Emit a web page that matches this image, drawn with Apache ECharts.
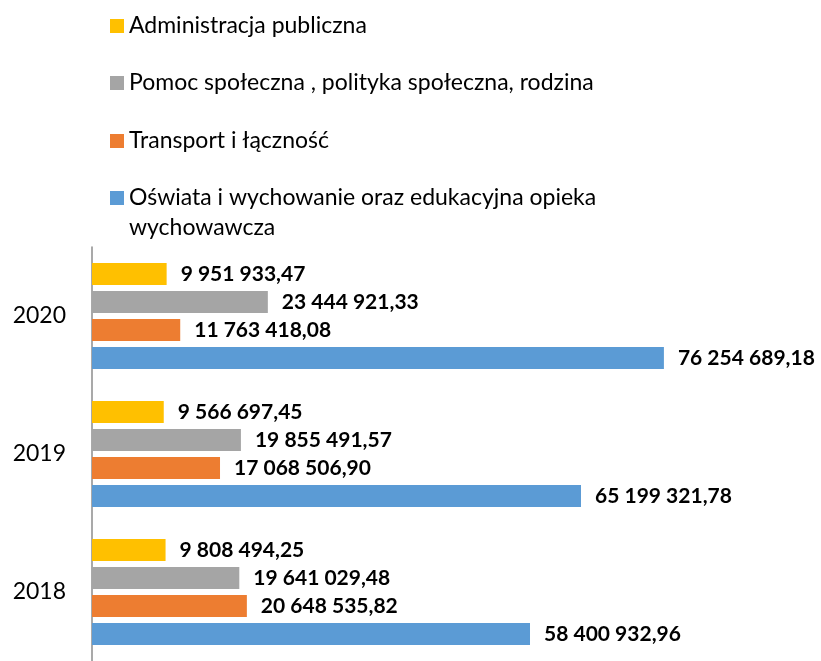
<!DOCTYPE html>
<html>
<head>
<meta charset="utf-8">
<script src="https://cdn.jsdelivr.net/npm/echarts@6/dist/echarts.min.js"></script>
<style>
  html, body { margin: 0; padding: 0; background: #fff; }
  #chart { width: 821px; height: 661px; }
</style>
</head>
<body>
<div id="chart"></div>
<script>
let years = ['2018', '2019', '2020'];

let administracja = [9808494.25, 9566697.45, 9951933.47];
let pomoc = [19641029.48, 19855491.57, 23444921.33];
let transport = [20648535.82, 17068506.90, 11763418.08];
let oswiata = [58400932.96, 65199321.78, 76254689.18];

let names = [
  'Administracja publiczna',
  'Pomoc społeczna , polityka społeczna, rodzina',
  'Transport i łączność',
  'Oświata i wychowanie oraz edukacyjna opieka wychowawcza'
];

let colors = ['#FFC000', '#A5A5A5', '#ED7D31', '#5B9BD5'];
let font = 'Lato, "Open Sans", sans-serif';

// 9 951 933,47
function plNumber(v) {
  let parts = v.toFixed(2).split('.');
  let intPart = parts[0].replace(/\B(?=(\d{3})+(?!\d))/g, ' ');
  return intPart + ',' + parts[1];
}

function makeSeries(name, data, color) {
  return {
    name: name,
    type: 'bar',
    data: data,
    color: color,
    barWidth: 22,
    barGap: '27%',
    label: {
      show: true,
      position: 'right',
      distance: 14,
      fontFamily: font,
      fontWeight: 'bold',
      fontSize: 21,
      color: '#000',
      formatter: function(p) {
        return plNumber(p.value);
      }
    }
  };
}

function makeLegend(name, top, lines) {
  return {
    data: [name],
    orient: 'vertical',
    left: 105,
    top: top,
    icon: 'rect',
    itemWidth: 14,
    itemHeight: 14,
    selectedMode: false,
    formatter: function() {
      return lines;
    },
    textStyle: {
      fontFamily: font,
      fontSize: 23,
      lineHeight: 30,
      color: '#000'
    }
  };
}

let option = {
  animation: false,
  backgroundColor: '#fff',
  legend: [
    makeLegend(names[0], 6, names[0]),
    makeLegend(names[1], 63, names[1]),
    makeLegend(names[2], 121, names[2]),
    makeLegend(names[3], 148, '\nOświata i wychowanie oraz edukacyjna opieka\nwychowawcza')
  ],
  grid: {
    left: 92,
    top: 247,
    width: 675,
    height: 422
  },
  xAxis: {
    type: 'value',
    min: 0,
    max: 90000000,
    show: false
  },
  yAxis: {
    type: 'category',
    data: years,
    axisTick: { show: false },
    axisLine: {
      lineStyle: { color: '#8c8c8c', width: 1.5 }
    },
    axisLabel: {
      margin: 26,
      fontFamily: font,
      fontSize: 23,
      color: '#000'
    }
  },
  series: [
    makeSeries(names[0], administracja, colors[0]),
    makeSeries(names[1], pomoc, colors[1]),
    makeSeries(names[2], transport, colors[2]),
    makeSeries(names[3], oswiata, colors[3])
  ]
};

let chart = echarts.init(document.getElementById('chart'));
chart.setOption(option);
</script>
</body>
</html>
